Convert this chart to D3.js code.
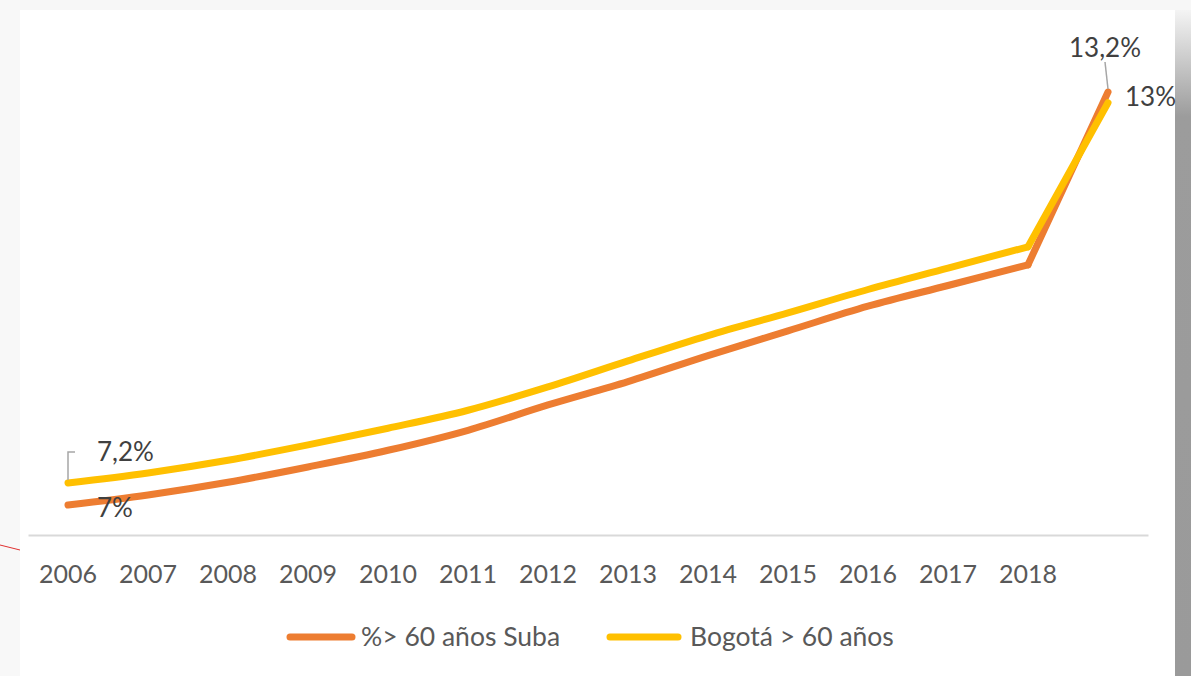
<!DOCTYPE html>
<html>
<head>
<meta charset="utf-8">
<script src="https://cdn.jsdelivr.net/npm/d3@7"></script>
<style>
  html, body { margin: 0; padding: 0; background: #fff; }
  svg { display: block; font-family: Lato, "Open Sans", sans-serif; }
</style>
</head>
<body>
<svg id="chart"></svg>
<script>
// Categories (last point has no tick label)
const years = ["2006", "2007", "2008", "2009", "2010", "2011", "2012",
  "2013", "2014", "2015", "2016", "2017", "2018", ""];

// Series values (%)
const subaValues = [7.0, 7.15, 7.34, 7.57, 7.82, 8.12, 8.5, 8.85, 9.24, 9.61, 9.98, 10.29, 10.6, 13.19];
const bogotaValues = [7.33, 7.48, 7.67, 7.9, 8.15, 8.42, 8.77, 9.16, 9.54, 9.88, 10.23, 10.55, 10.87, 13.03];

const seriesNames = ["%> 60 años Suba", "Bogotá > 60 años"];
const seriesColors = ["#ED7D31", "#FFC000"];

// Data labels shown on the chart
const subaLabels = { first: "7%", last: "13,2%" };
const bogotaLabels = { first: "7,2%", last: "13%" };

const W = 1191, H = 676;
const last = years.length - 1;
const svg = d3.select("#chart").attr("width", W).attr("height", H);

// Frame decorations (screenshot edges)
const defs = svg.append("defs");
const grad = defs.append("linearGradient").attr("id", "sideShade")
  .attr("x1", 0).attr("y1", 0).attr("x2", 0).attr("y2", 1);
grad.append("stop").attr("offset", "0").attr("stop-color", "#f4f4f4");
grad.append("stop").attr("offset", "0.16").attr("stop-color", "#9c9c9c");
grad.append("stop").attr("offset", "1").attr("stop-color", "#9a9a9a");

svg.append("rect").attr("x", 0).attr("y", 0).attr("width", W).attr("height", 10).attr("fill", "#f7f7f7");
svg.append("rect").attr("x", 0).attr("y", 0).attr("width", 20).attr("height", H).attr("fill", "#f8f8f8");
svg.append("rect").attr("x", 20).attr("y", 10).attr("width", 1155).attr("height", H - 10).attr("fill", "#fff");
svg.append("rect").attr("x", 1175).attr("y", 10).attr("width", W - 1175).attr("height", H - 10)
  .attr("fill", "url(#sideShade)");
svg.append("line").attr("x1", 0).attr("y1", 545).attr("x2", 20).attr("y2", 550)
  .attr("stroke", "#e03030").attr("stroke-width", 1);

// Scales
const xScale = d3.scaleBand().domain(years).range([28, 1148]);
const yScale = d3.scaleLinear().domain([6.55, 14]).range([535, 38]);
const xPos = (i) => xScale(years[i]) + xScale.bandwidth() / 2;

// X axis
const xAxis = d3.axisBottom(xScale).tickSize(0).tickSizeOuter(0).tickPadding(30);
const xAxisG = svg.append("g").attr("transform", `translate(0,${yScale(6.55)})`).call(xAxis);
xAxisG.select(".domain").attr("stroke", "#d9d9d9").attr("stroke-width", 2);
xAxisG.selectAll("text").attr("font-family", "Lato, sans-serif")
  .attr("font-size", 25).attr("fill", "#595959");

// Lines
const line = d3.line().x((d, i) => xPos(i)).y((d) => yScale(d)).curve(d3.curveMonotoneX);
const lineEnd = d3.line().x((d) => xPos(d[0])).y((d) => yScale(d[1]));
[subaValues, bogotaValues].forEach((vals, k) => {
  // smooth part up to 2018, then the straight jump to the last point
  const g = svg.append("g").attr("fill", "none").attr("stroke", seriesColors[k])
    .attr("stroke-width", 7).attr("stroke-linecap", "round").attr("stroke-linejoin", "miter");
  g.append("path").datum(vals.slice(0, last)).attr("d", line);
  g.append("path").datum([[last - 1, vals[last - 1]], [last, vals[last]]]).attr("d", lineEnd);
});

// Data labels and leader lines
const labelG = svg.append("g").attr("font-size", 26).attr("fill", "#404040");

svg.append("path")
  .attr("d", `M${xPos(0)},${yScale(bogotaValues[0]) - 3}V${yScale(bogotaValues[0]) - 31}h7`)
  .attr("fill", "none").attr("stroke", "#a6a6a6").attr("stroke-width", 1.5);
labelG.append("text").attr("x", xPos(0) + 29).attr("y", yScale(bogotaValues[0]) - 22)
  .text(bogotaLabels.first);
labelG.append("text").attr("x", xPos(0) + 29).attr("y", yScale(subaValues[0]) + 12)
  .text(subaLabels.first);

svg.append("line")
  .attr("x1", xPos(last) - 3).attr("y1", yScale(subaValues[last]) - 30)
  .attr("x2", xPos(last)).attr("y2", yScale(subaValues[last]) - 3)
  .attr("stroke", "#a6a6a6").attr("stroke-width", 1.5);
labelG.append("text").attr("x", xPos(last) - 3).attr("y", yScale(subaValues[last]) - 35)
  .attr("text-anchor", "middle").text(subaLabels.last);
labelG.append("text").attr("x", xPos(last) + 17).attr("y", yScale(bogotaValues[last]) + 3)
  .text(bogotaLabels.last);

// Legend
const legendItems = [
  { name: seriesNames[0], color: seriesColors[0], x1: 290, x2: 352, tx: 361 },
  { name: seriesNames[1], color: seriesColors[1], x1: 610, x2: 678, tx: 690 }
];
const legend = svg.append("g").attr("transform", "translate(0,637)");
legendItems.forEach((d) => {
  legend.append("line").attr("x1", d.x1).attr("x2", d.x2).attr("y1", 0).attr("y2", 0)
    .attr("stroke", d.color).attr("stroke-width", 7).attr("stroke-linecap", "round");
  legend.append("text").attr("x", d.tx).attr("y", 9)
    .attr("font-size", 26.5).attr("fill", "#595959").text(d.name);
});
</script>
</body>
</html>
